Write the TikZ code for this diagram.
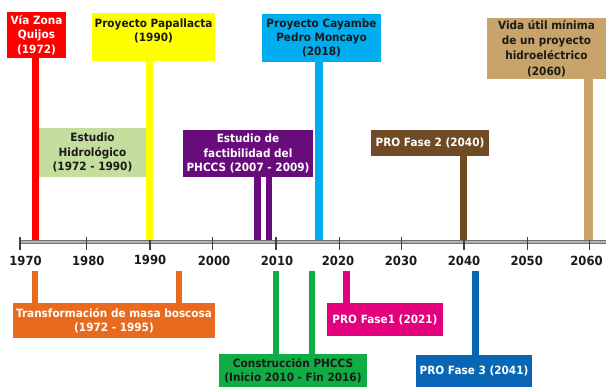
\documentclass[tikz,border=0pt]{standalone}
\usepackage{fontspec}
\setmainfont{DejaVu Sans}[FakeStretch=0.92]
\definecolor{cRed}{HTML}{FF0000}
\definecolor{cYellow}{HTML}{FFFF00}
\definecolor{cLgreen}{HTML}{C4DE9E}
\definecolor{cPurple}{HTML}{680C7C}
\definecolor{cCyan}{HTML}{00AEEF}
\definecolor{cBrown}{HTML}{6E4B24}
\definecolor{cTan}{HTML}{C8A46B}
\definecolor{cOrange}{HTML}{E86A1F}
\definecolor{cGreen}{HTML}{10AD45}
\definecolor{cMagenta}{HTML}{E3007D}
\definecolor{cDblue}{HTML}{0866B4}
\definecolor{cText}{HTML}{1A1A1A}
\tikzset{
  box/.style={inner sep=0pt, align=center, text=cText,
    font=\fontsize{11.4}{14.2}\selectfont\bfseries},
  wbox/.style={box, text=white},
  stem/.style={line width=7pt},
  yearlbl/.style={inner sep=0pt, text=cText, font=\fontsize{12.6}{14}\selectfont\bfseries},
  tickmark/.style={line width=1.2pt, draw=black!75},
}
\begin{document}
\begin{tikzpicture}[x=1pt,y=-1pt]
\useasboundingbox (0,0) rectangle (606,387);
% axis
\coordinate (axL) at (19,241.8);
\coordinate (axR) at (606,241.8);
\draw[line width=3.8pt, black!55] (axL) -- (axR);
\draw[line width=1.4pt, black!30] ([yshift=-0.4pt]axL) -- ([yshift=-0.4pt]axR);
\foreach \yr/\tx/\lx/\ly in {1970/20/25.5/261, 1980/86.7/88.3/261, 1990/150/150/259.5, 2000/212.7/214/261, 2010/276/277/261, 2020/339.3/338/260.5, 2030/401.7/401/261, 2040/464/464/261, 2050/527.3/526.7/261, 2060/589.3/586.5/261}{
  \coordinate (t\yr a) at (\tx,237);
  \coordinate (t\yr b) at (\tx,250);
  \draw[tickmark] (t\yr a) -- (t\yr b);
  \node[yearlbl] (y\yr) at (\lx,\ly) {\yr};
}
% boxes above
\node[wbox, fill=cRed, minimum width=59pt, minimum height=46pt] (quijos) at (36.5,35) {Vía Zona\\Quijos\\(1972)};
\node[box, fill=cYellow, minimum width=123pt, minimum height=48pt] (papallacta) at (153.5,37) {Proyecto Papallacta\\(1990)\\~};
\node[box, fill=cLgreen, minimum width=107pt, minimum height=49pt] (hidro) at (92.5,152.5) {Estudio\\Hidrológico\\(1972 - 1990)};
\node[wbox, fill=cPurple, minimum width=130pt, minimum height=47pt] (factib) at (248,153.5) {Estudio de\\factibilidad del\\PHCCS (2007 - 2009)};
\node[box, fill=cCyan, minimum width=119pt, minimum height=48pt] (cayambe) at (321.5,38) {Proyecto Cayambe\\Pedro Moncayo\\(2018)};
\node[wbox, fill=cBrown, minimum width=118pt, minimum height=26pt] (fase2) at (430,143) {PRO Fase 2 (2040)};
\node[box, fill=cTan, minimum width=119pt, minimum height=61pt, font=\fontsize{11.4}{15.2}\selectfont\bfseries] (vida) at (546.5,48.5) {Vida útil mínima\\de un proyecto\\hidroeléctrico\\(2060)};
% boxes below
\node[wbox, fill=cOrange, minimum width=202pt, minimum height=35pt] (transf) at (114,320.5) {Transformación de masa boscosa\\(1972 - 1995)};
\node[box, fill=cGreen, minimum width=148pt, minimum height=34pt] (constr) at (293,371) {Construcción PHCCS\\(Inicio 2010 - Fin 2016)};
\node[wbox, fill=cMagenta, minimum width=116pt, minimum height=33pt] (fase1) at (385,319.5) {PRO Fase1 (2021)};
\node[wbox, fill=cDblue, minimum width=116pt, minimum height=32pt] (fase3) at (474,371) {PRO Fase 3 (2041)};
% stem end points on the axis
\coordinate (sQ) at (35.5,240);
\coordinate (sP) at (149.5,240);
\coordinate (sF1) at (257.5,240);
\coordinate (sF2) at (268.8,240);
\coordinate (sC) at (319,240);
\coordinate (sB) at (463.5,240);
\coordinate (sV) at (588.5,240);
\coordinate (sT1) at (35,271);
\coordinate (sT2) at (179,271);
\coordinate (sG1) at (276,271);
\coordinate (sG2) at (312,271);
\coordinate (sM) at (346.5,271);
\coordinate (sD) at (475.5,271);
% stems
\draw[stem, cRed] (quijos.south -| sQ) -- (sQ);
\draw[stem, cYellow] (papallacta.south -| sP) -- (sP);
\draw[stem, cPurple, line width=6.4pt] (factib.south -| sF1) -- (sF1);
\draw[stem, cPurple, line width=6.4pt] (factib.south -| sF2) -- (sF2);
\draw[stem, cCyan, line width=7.6pt] (cayambe.south -| sC) -- (sC);
\draw[stem, cBrown] (fase2.south -| sB) -- (sB);
\draw[stem, cTan, line width=9pt] (vida.south -| sV) -- (sV);
\draw[stem, cOrange, line width=6pt] (transf.north -| sT1) -- (sT1);
\draw[stem, cOrange, line width=6pt] (transf.north -| sT2) -- (sT2);
\draw[stem, cGreen, line width=6pt] (constr.north -| sG1) -- (sG1);
\draw[stem, cGreen, line width=6pt] (constr.north -| sG2) -- (sG2);
\draw[stem, cMagenta] (fase1.north -| sM) -- (sM);
\draw[stem, cDblue] (fase3.north -| sD) -- (sD);
\end{tikzpicture}
\end{document}
